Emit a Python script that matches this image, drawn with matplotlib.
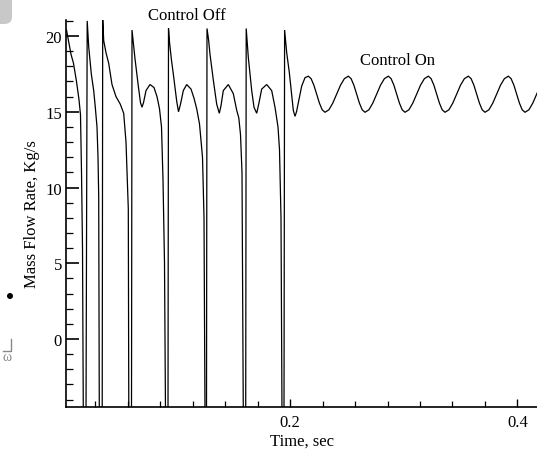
import matplotlib
matplotlib.use("Agg")
import matplotlib.pyplot as plt
from matplotlib.ticker import MultipleLocator, FixedLocator
from matplotlib.patches import FancyBboxPatch, Ellipse
from matplotlib.lines import Line2D
import numpy as np

plt.rcParams['font.family'] = ['Liberation Serif', 'DejaVu Serif']

# Mass flow rate history, control off (surge cycles, minima run below the axis)
time_off = [
    0.00308, 0.00484, 0.00704, 0.00924, 0.01188, 0.01408, 0.01540, 0.01629, 0.01717, 0.01787,
    0.02025, 0.02077, 0.02130, 0.02262, 0.02491, 0.02702, 0.02843, 0.02993, 0.03081, 0.03143,
    0.03195, 0.03451, 0.03495, 0.03583, 0.03785, 0.04023, 0.04313, 0.04665, 0.05044, 0.05343,
    0.05546, 0.05678, 0.05748, 0.05792, 0.06030, 0.06074, 0.06338, 0.06629, 0.06822, 0.06954,
    0.07086, 0.07306, 0.07658, 0.08011, 0.08275, 0.08495, 0.08671, 0.08803, 0.08935, 0.09023,
    0.09243, 0.09287, 0.09375, 0.09551, 0.09710, 0.10009, 0.10167, 0.10343, 0.10590, 0.10889,
    0.11268, 0.11532, 0.11769, 0.12016, 0.12280, 0.12412, 0.12500, 0.12632, 0.12676, 0.12808,
    0.12940, 0.13231, 0.13530, 0.13759, 0.13908, 0.14111, 0.14551, 0.14991, 0.15291, 0.15475,
    0.15625, 0.15757, 0.15871, 0.16083, 0.16127, 0.16312, 0.16611, 0.16813, 0.17051, 0.17254,
    0.17491, 0.17931, 0.18371, 0.18662, 0.18926, 0.19058, 0.19190, 0.19278, 0.19454, 0.19507,
]
flow_off = [
    20.4, 19.7, 18.8, 18.2, 17.0, 15.8, 14.8, 11.0, 6.0, -5.0,
    -5.0, 8.0, 21.0, 19.3, 17.5, 16.4, 15.3, 14.0, 12.0, 9.4,
    -5.0, -5.0, 21.1, 19.7, 18.9, 18.2, 16.8, 16.0, 15.5, 14.9,
    13.0, 10.0, 8.6, -5.0, -5.0, 20.4, 18.5, 16.7, 15.6, 15.3,
    15.6, 16.4, 16.8, 16.6, 16.0, 15.2, 14.0, 10.5, 5.0, -5.0,
    -5.0, 20.5, 19.6, 18.4, 17.5, 15.7, 15.0, 15.5, 16.4, 16.8,
    16.5, 15.9, 15.2, 14.2, 12.0, 8.0, -5.0, -5.0, 20.5, 19.8,
    18.8, 17.1, 15.5, 14.9, 15.4, 16.4, 16.8, 16.2, 15.1, 14.6,
    13.5, 11.0, -5.0, -5.0, 20.5, 18.6, 16.4, 15.3, 14.9, 15.6,
    16.5, 16.8, 16.4, 15.3, 14.0, 12.5, 8.0, -5.0, -5.0, 20.4,
]

# Mass flow rate history, control on (steady oscillation)
time_on = [
    0.19692, 0.19921, 0.20132, 0.20273, 0.20423, 0.20555, 0.20713, 0.21012, 0.21303,
    0.21593, 0.21838, 0.22083, 0.22328, 0.22573, 0.22818, 0.23063, 0.23405, 0.23747, 0.24088, 0.24430, 0.24772,
    0.25114, 0.25359, 0.25604, 0.25849, 0.26094, 0.26339, 0.26585, 0.26927, 0.27269, 0.27610, 0.27952, 0.28294,
    0.28636, 0.28881, 0.29126, 0.29371, 0.29616, 0.29861, 0.30106, 0.30448, 0.30790, 0.31131, 0.31473, 0.31815,
    0.32157, 0.32402, 0.32647, 0.32892, 0.33137, 0.33382, 0.33627, 0.33969, 0.34311, 0.34652, 0.34994, 0.35336,
    0.35678, 0.35923, 0.36168, 0.36413, 0.36658, 0.36903, 0.37148, 0.37490, 0.37832, 0.38173, 0.38515, 0.38857,
    0.39199, 0.39444, 0.39689, 0.39934, 0.40179, 0.40424, 0.40669, 0.41011, 0.41353, 0.41694, 0.42036,
]
flow_on = [
    18.9, 17.6, 16.1, 15.1, 14.7, 15.0, 15.6, 16.7, 17.25,
    17.35, 17.19, 16.76, 16.16, 15.57, 15.13, 14.97, 15.13, 15.57, 16.16, 16.76, 17.19,
    17.35, 17.19, 16.76, 16.16, 15.57, 15.13, 14.97, 15.13, 15.57, 16.16, 16.76, 17.19,
    17.35, 17.19, 16.76, 16.16, 15.57, 15.13, 14.97, 15.13, 15.57, 16.16, 16.76, 17.19,
    17.35, 17.19, 16.76, 16.16, 15.57, 15.13, 14.97, 15.13, 15.57, 16.16, 16.76, 17.19,
    17.35, 17.19, 16.76, 16.16, 15.57, 15.13, 14.97, 15.13, 15.57, 16.16, 16.76, 17.19,
    17.35, 17.19, 16.76, 16.16, 15.57, 15.13, 14.97, 15.13, 15.57, 16.16, 16.76,
]

y_major = [0, 5, 10, 15, 20]
x_major = [0.2, 0.4]

W, H = 537, 452
fig = plt.figure(figsize=(W / 100, H / 100), dpi=100)
ax = fig.add_axes([66 / W, (H - 408) / H, 471 / W, (408 - 21) / H])

t = np.array(time_off + time_on)
q = np.array(flow_off + flow_on)
ax.plot(t, q, color='black', lw=0.9, solid_joinstyle='miter')

ax.set_xlim(0.00264, 0.41725)
ax.set_ylim(-4.49, 21.06)

ax.spines['top'].set_visible(False)
ax.spines['right'].set_visible(False)
for s in ('left', 'bottom'):
    ax.spines[s].set_linewidth(1.2)

ax.yaxis.set_major_locator(FixedLocator(y_major))
ax.yaxis.set_minor_locator(MultipleLocator(1))
ax.xaxis.set_major_locator(FixedLocator(x_major))
ax.xaxis.set_minor_locator(MultipleLocator(0.2 / 7))
ax.xaxis.set_major_formatter(plt.FuncFormatter(lambda v, p: f"{v:g}"))

ax.tick_params(axis='y', which='major', direction='in', length=9, width=1.2, labelsize=12, pad=3)
ax.tick_params(axis='y', which='minor', direction='in', length=5, width=0.9)
ax.tick_params(axis='x', which='major', direction='in', length=6, width=1.0, labelsize=12, pad=5)
ax.tick_params(axis='x', which='minor', direction='in', length=4, width=0.9)

ax.set_xlabel('Time, sec', fontsize=12, labelpad=2)
ax.set_ylabel('Mass Flow Rate, Kg/s', fontsize=12, labelpad=4)

ax.text(0.1089, 21.42, 'Control Off', fontsize=12, ha='center', va='center', clip_on=False)
ax.text(0.2943, 18.45, 'Control On', fontsize=12, ha='center', va='center')

# page margin marks at the left edge
fig.add_artist(FancyBboxPatch((-0.02, 1 - 25 / H), 12 / W + 0.02, 25 / H + 0.02,
                              boxstyle='round,pad=0,rounding_size=0.015',
                              transform=fig.transFigure, facecolor='#c8c8c8',
                              edgecolor='none'))
fig.add_artist(Ellipse((10 / W, 1 - 297 / H), 6 / W, 6 / H, transform=fig.transFigure,
                       facecolor='black', edgecolor='none'))
fig.add_artist(Line2D([11 / W, 11 / W, 3 / W], [1 - 340 / H, 1 - 352 / H, 1 - 352 / H],
                      transform=fig.transFigure, color='#888888', lw=1))
fig.text(7 / W, 1 - 358 / H, 'ω', fontsize=10, color='#888888', ha='center', va='center')

fig.savefig('out.png', dpi=100)
